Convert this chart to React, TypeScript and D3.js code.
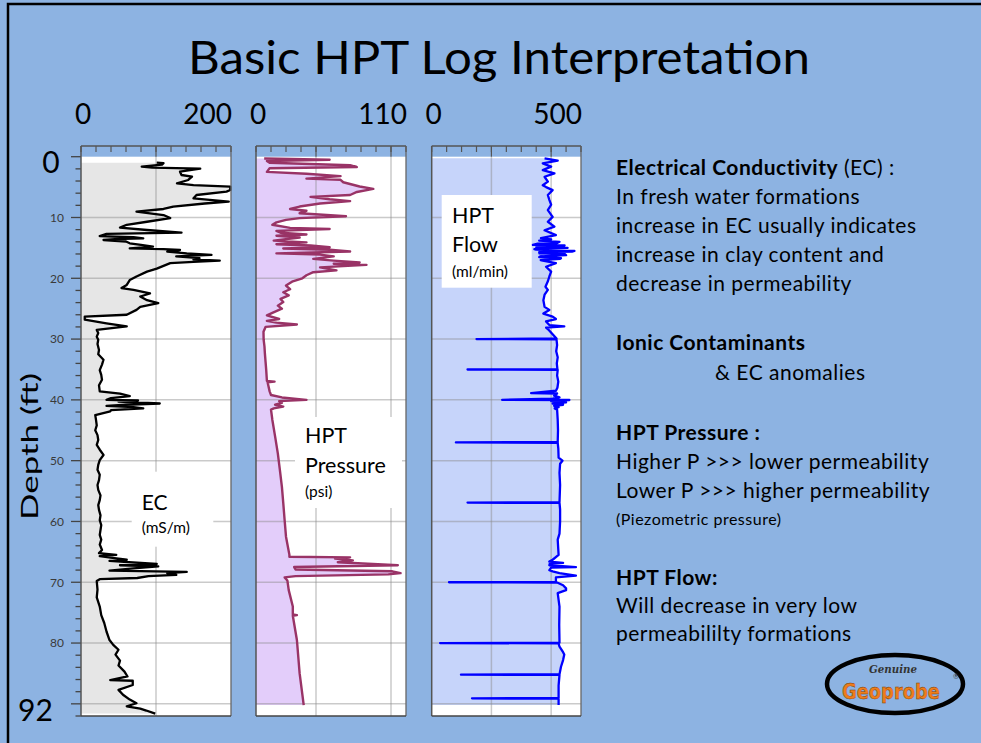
import React from 'react';
import * as d3 from 'd3';

// ---------- data ----------
const depthDomain: [number, number] = [0, 92];
const depthGridTicks = [10, 20, 30, 40, 50, 60, 70, 80, 90];
const depthLabelTicks = [10, 20, 30, 40, 50, 60, 70, 80];
const depthEndLabels = ['0', '92'];

const ecDomain: [number, number] = [0, 200];
const ecGrid = [100];
const ecTickLabels = ['0', '200'];

const pressureDomain: [number, number] = [0, 110];
const pressureGrid = [44, 99];
const pressureTickLabels = ['0', '110'];

const flowDomain: [number, number] = [0, 500];
const flowGrid = [200, 400];
const flowTickLabels = ['0', '500'];

// [depth ft, EC mS/m]
const ecData: [number, number][] = [
  [0.98, 101], [1.05, 110], [1.3, 108], [1.64, 81], [1.8, 95], [1.97, 159], [2.46, 132], [3.01, 134], [3.29, 148],
  [3.83, 143], [4.38, 128], [4.66, 150], [4.93, 199], [5.48, 199], [5.75, 194], [6.3, 154], [6.85, 150],
  [7.4, 197], [7.7, 165], [8.2, 123], [8.6, 110], [9.04, 74], [9.6, 110], [10.1, 119], [10.7, 88], [11.2, 61],
  [11.67, 52], [12.06, 88], [12.5, 134], [12.7, 34], [13.05, 25], [13.25, 70], [13.43, 83], [13.55, 45], [13.7, 30],
  [13.95, 60], [14.25, 65], [14.5, 80], [14.8, 96], [15.07, 65], [15.2, 110], [15.35, 132], [15.6, 115],
  [15.9, 141], [16.16, 174], [16.4, 127], [16.7, 158], [16.9, 150], [17.1, 185], [17.3, 150], [17.5, 119],
  [18.4, 101], [18.9, 88], [19.7, 74], [20.3, 65], [21.1, 61], [21.6, 54], [21.9, 70], [22.5, 92], [23.0, 79],
  [23.6, 88], [24.1, 103], [24.7, 79], [25.2, 74], [26.0, 61], [26.3, 5], [26.8, 5], [27.4, 34], [27.9, 61],
  [28.5, 21], [29.0, 23], [29.6, 21], [30.1, 23], [30.8, 22], [31.8, 24], [32.5, 23], [33.4, 30], [34.2, 28],
  [35.1, 25], [35.9, 27], [36.7, 28], [37.6, 24], [38.6, 25], [38.96, 52], [39.4, 65], [39.7, 40], [40.0, 34],
  [40.1, 76], [40.3, 50], [40.6, 105], [40.8, 60], [41.0, 34], [41.2, 70], [41.4, 83], [41.7, 40], [41.9, 39],
  [42.5, 19], [43.3, 20], [44.2, 21], [45.0, 19], [45.8, 22], [46.6, 23], [47.4, 21], [48.2, 25], [49.06, 30],
  [49.9, 25], [50.7, 23], [51.5, 22], [52.3, 25], [53.2, 24], [54.0, 22], [54.8, 23], [55.7, 26], [56.5, 25],
  [57.3, 23], [58.1, 24], [59.0, 26], [59.8, 25], [60.6, 27], [61.4, 26], [62.2, 25], [63.0, 27], [63.8, 25],
  [64.7, 28], [65.2, 24], [65.5, 47], [65.7, 25], [66.0, 42], [66.3, 61], [66.5, 38], [67.0, 101], [67.2, 52],
  [67.4, 103], [67.7, 70], [68.1, 38], [68.3, 141], [68.5, 115], [68.8, 127], [69.0, 90], [69.3, 75], [69.5, 25],
  [69.8, 21], [71.2, 22], [72.5, 21], [74.0, 25], [75.4, 27], [76.7, 31], [78.1, 34], [79.5, 38], [80.3, 43],
  [81.1, 50], [81.9, 46], [82.9, 52], [83.7, 50], [84.7, 58], [85.5, 62], [86.1, 39], [86.2, 69], [86.9, 69],
  [87.7, 50], [88.5, 56], [89.3, 65], [89.9, 74], [90.4, 61], [90.8, 79], [91.1, 87], [91.6, 99],
];

// [depth ft, pressure psi]
const pressureData: [number, number][] = [
  [0.3, 6], [0.5, 54], [0.7, 8], [1.0, 10], [1.4, 69], [1.7, 74], [1.9, 10], [2.5, 8], [2.8, 37], [3.2, 62],
  [3.6, 37], [3.8, 62], [4.2, 64], [4.9, 76], [5.3, 86], [5.8, 74], [6.3, 69], [6.6, 40], [7.0, 54], [7.3, 69],
  [7.7, 47], [8.2, 32], [8.6, 25], [8.9, 37], [9.3, 32], [9.8, 66], [10.1, 32], [10.4, 22], [10.8, 15],
  [11.2, 12], [11.7, 25], [11.9, 54], [12.2, 15], [12.5, 18], [12.8, 37], [13.0, 15], [13.3, 32], [13.8, 13],
  [14.1, 37], [14.4, 15], [14.6, 40], [14.9, 54], [15.1, 20], [15.3, 54], [15.6, 69], [15.9, 15], [16.1, 47],
  [16.4, 57], [16.8, 42], [17.1, 57], [17.4, 76], [17.6, 57], [17.8, 81], [18.2, 47], [18.7, 59], [19.0, 42],
  [19.5, 37], [20.0, 34], [20.5, 27], [21.2, 22], [21.8, 25], [22.3, 20], [22.8, 24], [23.4, 18], [23.9, 20],
  [24.5, 16], [25.0, 19], [25.7, 12], [26.1, 8], [26.7, 17], [27.0, 8], [27.3, 15], [27.6, 30], [28.0, 7],
  [28.8, 5.5], [30.1, 5.6], [31.2, 6.2], [32.3, 6.5], [33.7, 7], [35.1, 7.5], [36.9, 8], [37.0, 13.6],
  [37.1, 8.5], [38.6, 10], [39.2, 11], [39.6, 19], [40.0, 37], [40.2, 17], [40.5, 19], [40.8, 14], [41.1, 20],
  [41.4, 13], [41.6, 11], [43.3, 12], [46.0, 14], [48.8, 16], [51.5, 17.5], [54.3, 19], [57.0, 20], [59.8, 21],
  [62.5, 22], [65.5, 24.5], [65.8, 24.5], [65.9, 69], [66.1, 58], [66.4, 71], [66.7, 60], [67.2, 104],
  [67.5, 28], [67.9, 29], [68.2, 100], [68.5, 106], [68.7, 97], [69.0, 29], [69.2, 21], [69.7, 23], [71.3, 24],
  [74.0, 27], [75.3, 27], [75.4, 30], [75.5, 27], [79.5, 30], [85.0, 32], [90.2, 35],
];

// [depth ft, flow ml/min]
const flowData: [number, number][] = [
  [0.27, 378], [0.65, 422], [1.1, 372], [1.64, 400], [2.2, 372], [2.74, 411], [3.3, 378], [4.1, 389],
  [4.7, 372], [5.0, 383], [5.5, 405], [6.3, 389], [7.1, 394], [7.9, 400], [8.8, 389], [9.9, 405], [10.7, 389],
  [11.5, 411], [12.1, 378], [12.9, 416], [13.4, 366], [13.6, 400], [13.8, 360], [14.0, 428], [14.2, 420],
  [14.3, 355], [14.5, 339], [14.6, 445], [14.8, 439], [14.9, 350], [15.0, 455], [15.2, 344], [15.3, 350],
  [15.5, 478], [15.6, 470], [15.7, 360], [15.9, 361], [16.0, 445], [16.2, 450], [16.4, 366], [16.5, 360],
  [16.7, 433], [16.8, 430], [17.0, 365], [17.1, 372], [17.5, 416], [18.1, 383], [18.9, 400], [19.7, 394],
  [20.5, 389], [21.4, 381], [21.9, 389], [22.7, 378], [23.6, 374], [24.7, 378], [25.2, 394], [25.8, 374],
  [26.3, 405], [26.7, 416], [27.1, 383], [27.7, 394], [27.9, 444], [28.1, 383], [28.5, 392], [29.9, 418],
  [30.0, 150], [30.05, 418], [31.0, 420], [32.0, 417], [33.0, 422], [34.0, 419], [34.95, 421], [35.0, 120],
  [35.05, 422], [36.0, 420], [37.0, 424], [38.0, 421], [38.5, 416], [38.9, 333], [38.95, 420], [39.3, 410],
  [39.6, 428], [39.8, 405], [40.0, 236], [40.02, 461], [40.2, 400], [40.4, 450], [40.6, 405], [40.8, 440],
  [41.0, 410], [41.2, 425], [41.4, 412], [41.6, 420], [43.3, 422], [45.0, 423], [46.95, 422], [47.0, 81],
  [47.05, 422], [48.0, 424], [49.5, 425], [50.0, 438], [50.5, 430], [52.0, 428], [54.0, 430], [56.85, 428],
  [56.9, 120], [56.95, 428], [58.0, 430], [60.0, 430], [62.0, 428], [63.0, 422], [65.5, 425], [66.3, 405],
  [66.6, 394], [66.8, 440], [67.0, 395], [67.2, 394], [67.5, 483], [67.6, 400], [68.0, 394], [68.2, 405],
  [68.5, 428], [68.9, 483], [69.2, 416], [69.95, 416], [70.0, 58], [70.05, 420], [70.5, 440], [71.0, 450],
  [71.3, 450], [71.8, 422], [74.0, 428], [77.0, 427], [79.95, 428], [80.0, 28], [80.05, 425], [80.6, 428],
  [81.5, 440], [81.9, 444], [82.8, 440], [83.9, 433], [85.15, 428], [85.2, 98], [85.25, 428], [87.0, 425],
  [89.05, 425], [89.1, 135], [89.15, 425], [90.2, 425],
];

// ---------- layout / style ----------
const W = 981;
const H = 743;
const FONT = "Lato, 'Open Sans', sans-serif";
const BG = '#8db3e2';
const PLOT_TOP = 156.7;
const PLOT_BOTTOM = 716;
const AXIS_Y = 146;

const y = d3.scaleLinear().domain(depthDomain).range([PLOT_TOP, PLOT_BOTTOM]);

type PanelSpec = {
  data: [number, number][];
  domain: [number, number];
  grid: number[];
  tickLabels: string[];
  x0: number;
  x1: number;
  fill: string;
  stroke: string;
  strokeWidth: number;
};

const panels: PanelSpec[] = [
  { data: ecData, domain: ecDomain, grid: ecGrid, tickLabels: ecTickLabels, x0: 81, x1: 231, fill: '#e6e6e6', stroke: '#000000', strokeWidth: 2.3 },
  { data: pressureData, domain: pressureDomain, grid: pressureGrid, tickLabels: pressureTickLabels, x0: 256, x1: 406, fill: '#e3cdfa', stroke: '#993366', strokeWidth: 2.4 },
  { data: flowData, domain: flowDomain, grid: flowGrid, tickLabels: flowTickLabels, x0: 431.7, x1: 581, fill: '#c6d4fa', stroke: '#0000ff', strokeWidth: 2.3 },
];

const Panel = ({ p, children }: { p: PanelSpec; children?: React.ReactNode }) => {
  const x = d3.scaleLinear().domain(p.domain).range([p.x0, p.x1]);
  const area = d3
    .area<[number, number]>()
    .y((d) => y(d[0]))
    .x0(x(p.domain[0]))
    .x1((d) => x(d[1]));
  const line = d3
    .line<[number, number]>()
    .x((d) => x(d[1]))
    .y((d) => y(d[0]));
  const topTicks = d3.range(11).map((i) => p.domain[0] + (i * (p.domain[1] - p.domain[0])) / 10);
  return (
    <g>
      <rect x={p.x0} y={PLOT_TOP} width={p.x1 - p.x0} height={PLOT_BOTTOM - PLOT_TOP} fill="#ffffff" />
      <path d={area(p.data) || ''} fill={p.fill} />
      {depthGridTicks.map((t) => (
        <line key={'h' + t} x1={p.x0} x2={p.x1} y1={y(t)} y2={y(t)} stroke="#8a8a8a" strokeOpacity={0.45} strokeWidth={1.5} />
      ))}
      {p.grid.map((g) => (
        <line key={'v' + g} x1={x(g)} x2={x(g)} y1={PLOT_TOP} y2={PLOT_BOTTOM} stroke="#8a8a8a" strokeOpacity={0.45} strokeWidth={1.5} />
      ))}
      {children}
      <path d={line(p.data) || ''} fill="none" stroke={p.stroke} strokeWidth={p.strokeWidth} strokeLinejoin="round" />
      {/* frame */}
      <line x1={p.x0} x2={p.x1} y1={AXIS_Y} y2={AXIS_Y} stroke="#555" strokeWidth={1.3} />
      <line x1={p.x0} x2={p.x0} y1={AXIS_Y} y2={PLOT_BOTTOM} stroke="#555" strokeWidth={1.5} />
      <line x1={p.x1} x2={p.x1} y1={AXIS_Y} y2={PLOT_BOTTOM} stroke="#666" strokeWidth={1.3} />
      <line x1={p.x0} x2={p.x1} y1={PLOT_BOTTOM} y2={PLOT_BOTTOM} stroke="#444" strokeWidth={1.5} />
      {topTicks.map((t, i) => (
        <line key={'t' + i} x1={x(t)} x2={x(t)} y1={AXIS_Y} y2={AXIS_Y + 6} stroke="#555" strokeWidth={1.2} />
      ))}
      {p.grid.map((g) => (
        <line key={'mt' + g} x1={x(g)} x2={x(g)} y1={AXIS_Y} y2={PLOT_TOP} stroke="#555" strokeWidth={1.2} />
      ))}
      <text x={x(p.domain[0]) + 2} y={124} fontSize={28} textAnchor="middle" fontFamily={FONT} fill="#000">
        {p.tickLabels[0]}
      </text>
      <text x={x(p.domain[1]) + 1} y={124} fontSize={28} textAnchor="end" fontFamily={FONT} fill="#000">
        {p.tickLabels[1]}
      </text>
    </g>
  );
};

const LabelBox = ({ x0, y0, x1, y1, lines }: { x0: number; y0: number; x1: number; y1: number; lines: { t: string; y: number; s: number; x: number }[] }) => (
  <g>
    <rect x={x0} y={y0} width={x1 - x0} height={y1 - y0} fill="#ffffff" />
    {lines.map((l, i) => (
      <text key={i} x={l.x} y={l.y} fontSize={l.s} fontFamily={FONT} fill="#000">
        {l.t}
      </text>
    ))}
  </g>
);

type Seg = { t: string; b?: boolean };
const notes: { y: number; x: number; s: number; segs: Seg[] }[] = [
  { y: 175, x: 616, s: 21, segs: [{ t: 'Electrical Conductivity', b: true }, { t: ' (EC) :' }] },
  { y: 204, x: 616, s: 21, segs: [{ t: 'In fresh water formations' }] },
  { y: 233, x: 616, s: 21, segs: [{ t: 'increase in EC usually indicates' }] },
  { y: 262, x: 616, s: 21, segs: [{ t: 'increase in clay content and' }] },
  { y: 291, x: 616, s: 21, segs: [{ t: 'decrease in permeability' }] },
  { y: 350, x: 616, s: 21, segs: [{ t: 'Ionic Contaminants', b: true }] },
  { y: 380, x: 715, s: 21, segs: [{ t: '& EC anomalies' }] },
  { y: 440, x: 616, s: 21, segs: [{ t: 'HPT Pressure :', b: true }] },
  { y: 469, x: 616, s: 21, segs: [{ t: 'Higher P >>> lower permeability' }] },
  { y: 498, x: 616, s: 21, segs: [{ t: 'Lower P >>> higher permeability' }] },
  { y: 525, x: 616, s: 16, segs: [{ t: '(Piezometric pressure)' }] },
  { y: 585, x: 616, s: 21, segs: [{ t: 'HPT Flow:', b: true }] },
  { y: 613, x: 616, s: 21, segs: [{ t: 'Will decrease in very low' }] },
  { y: 641, x: 616, s: 21, segs: [{ t: 'permeabililty formations' }] },
];

export default function App() {
  const ecP = panels[0];
  return (
    <svg width={W} height={H} style={{ position: 'fixed', left: 0, top: 0 }} xmlns="http://www.w3.org/2000/svg">
      <rect x={0} y={0} width={W} height={H} fill={BG} />
      <path d={`M 8 ${H} L 8 4 L ${W} 4`} fill="none" stroke="#000" strokeWidth={2.5} />
      <text x={499} y={74} fontSize={46} textAnchor="middle" fontFamily={FONT} fill="#000" textLength={622} lengthAdjust="spacingAndGlyphs">
        Basic HPT Log Interpretation
      </text>

      {/* depth axis */}
      {d3.range(0, 93, 2).map((t) => (
        <line key={'dt' + t} x1={t % 10 === 0 ? 71 : 75.5} x2={ecP.x0} y1={y(t)} y2={y(t)} stroke="#444" strokeWidth={1.3} />
      ))}
      {depthLabelTicks.map((t) => (
        <text key={'dl' + t} x={64} y={y(t)} dy="0.36em" fontSize={12} textAnchor="end" fontFamily={FONT} fill="#3a3a3a">
          {t}
        </text>
      ))}
      <text x={51} y={173} fontSize={30} textAnchor="middle" fontFamily={FONT} fill="#000">
        {depthEndLabels[0]}
      </text>
      <text x={18} y={721} fontSize={30} fontFamily={FONT} fill="#000">
        {depthEndLabels[1]}
      </text>
      <text
        transform="translate(38,446.5) rotate(-90)"
        fontSize={24}
        textAnchor="middle"
        fontFamily={FONT}
        fill="#000"
        textLength={147}
        lengthAdjust="spacingAndGlyphs"
      >
        Depth (ft)
      </text>

      <Panel p={panels[0]}>
        <LabelBox
          x0={131.7}
          y0={471.7}
          x1={213.3}
          y1={546.7}
          lines={[
            { t: 'EC', y: 510, s: 21, x: 141.7 },
            { t: '(mS/m)', y: 533, s: 15.5, x: 141.7 },
          ]}
        />
      </Panel>
      <Panel p={panels[1]}>
        <LabelBox
          x0={295}
          y0={417}
          x1={402}
          y1={508}
          lines={[
            { t: 'HPT', y: 443, s: 21.5, x: 305 },
            { t: 'Pressure', y: 473, s: 21.5, x: 305 },
            { t: '(psi)', y: 497, s: 15.5, x: 305 },
          ]}
        />
      </Panel>
      <Panel p={panels[2]}>
        <LabelBox
          x0={441.7}
          y0={195}
          x1={531.7}
          y1={287.7}
          lines={[
            { t: 'HPT', y: 223, s: 21.5, x: 452 },
            { t: 'Flow', y: 252, s: 21.5, x: 452 },
            { t: '(ml/min)', y: 277, s: 15.5, x: 452 },
          ]}
        />
      </Panel>

      {notes.map((n, i) => (
        <text key={'n' + i} x={n.x} y={n.y} fontSize={n.s} fontFamily={FONT} fill="#000" letterSpacing={0.5}>
          {n.segs.map((s, j) => (
            <tspan key={j} fontWeight={s.b ? 700 : 400}>
              {s.t}
            </tspan>
          ))}
        </text>
      ))}

      {/* logo */}
      <g>
        <ellipse cx={895} cy={684} rx={68} ry={29} fill="none" stroke="#000" strokeWidth={4.5} />
        <text x={893} y={673} fontSize={11} textAnchor="middle" fontFamily="'DejaVu Serif', serif" fontWeight={700} fontStyle="italic" fill="#333" textLength={48} lengthAdjust="spacingAndGlyphs">
          Genuine
        </text>
        <text x={891} y={699} fontSize={22} textAnchor="middle" fontFamily="'DejaVu Sans Condensed', 'DejaVu Sans', sans-serif" fontWeight={700} fill="#ef7d1a" stroke="#7a3a00" strokeWidth={0.4} textLength={98} lengthAdjust="spacingAndGlyphs">
          Geoprobe
        </text>
        <text x={953} y={679} fontSize={7.5} fontFamily={FONT} fill="#333">
          ®
        </text>
      </g>
    </svg>
  );
}
